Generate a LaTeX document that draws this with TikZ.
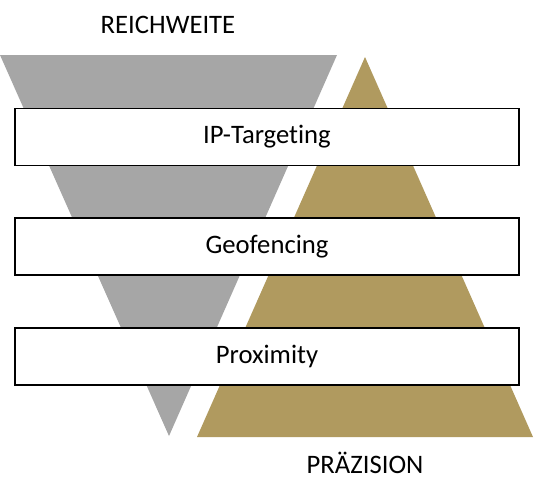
\documentclass[tikz,border=0pt]{standalone}
\usepackage{fontspec}
\setmainfont{Carlito}[Ligatures=NoCommon]
\usepackage{xcolor}
\usetikzlibrary{positioning}

\definecolor{reachgray}{HTML}{A6A6A6}
\definecolor{precgold}{HTML}{B09A5F}

\tikzset{
  layerbox/.style={rectangle, draw=black, line width=0.8pt, fill=white,
    minimum width=378pt, minimum height=42.75pt, inner sep=0pt,
    font=\fontsize{20}{24}\selectfont},
  axislabel/.style={inner sep=0pt, font=\fontsize{20}{24}\selectfont}
}

\begin{document}
\begin{tikzpicture}[x=0.75pt, y=-0.75pt]
      \useasboundingbox (0,0) rectangle (534,493);

      % Dreiecke
      \fill[reachgray] (0,55) -- (337,55) -- (169,436) -- cycle;
      \fill[precgold] (365,57) -- (533,437) -- (197,437) -- cycle;

      % Beschriftungen
      \node[axislabel] (reach) at (168,25) {REICHWEITE};
      \node[axislabel] (prec) at (365,463) {PRÄZISION};

      % Ebenen
      \node[layerbox] (ip) at (267,137) {IP-Targeting};
      \node[layerbox] (geo) at (267,246.5) {Geofencing};
      \node[layerbox] (prox) at (267,356.5) {Proximity};
\end{tikzpicture}
\end{document}
